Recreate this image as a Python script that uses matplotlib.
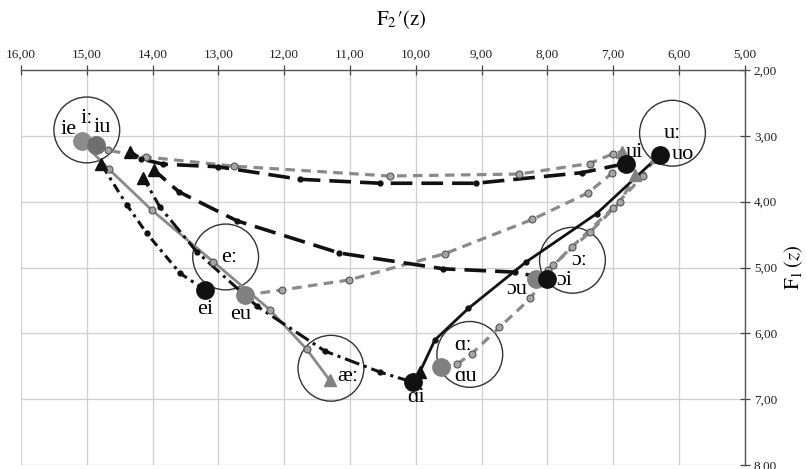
import matplotlib
matplotlib.use("Agg")
import matplotlib.pyplot as plt
from matplotlib.patches import Circle

# ------------------------------------
# Data (F2'(z), F1(z))
# ------------------------------------

mono_labels = ["iː", "eː", "æː", "ɑː", "ɔː", "uː"]
mono_x = [15.00, 12.89, 11.29, 9.18, 7.62, 6.10]
mono_y = [2.91, 4.84, 6.53, 6.32, 4.89, 2.96]

# diphthong trajectories: first point = onset, last point = offset
ie_x = [15.08, 14.66, 14.01, 13.08, 12.22, 11.66, 11.31]
ie_y = [3.08, 3.51, 4.13, 4.91, 5.64, 6.24, 6.71]

iu_x = [14.86, 14.68, 14.10, 12.77, 10.40, 8.43, 7.36, 7.00, 6.87]
iu_y = [3.14, 3.22, 3.32, 3.46, 3.61, 3.58, 3.42, 3.27, 3.24]

ui_x = [6.81, 7.48, 9.09, 10.54, 11.76, 13.00, 13.84, 14.18, 14.34]
ui_y = [3.42, 3.56, 3.72, 3.72, 3.66, 3.47, 3.43, 3.35, 3.24]

oi_x = [8.01, 8.49, 9.58, 11.16, 12.72, 13.60, 13.98]
oi_y = [5.17, 5.07, 5.02, 4.78, 4.29, 3.85, 3.52]

ei_x = [13.20, 13.58, 14.09, 14.39, 14.78]
ei_y = [5.34, 5.09, 4.48, 4.05, 3.43]

ai_x = [10.05, 10.54, 11.38, 12.41, 13.33, 13.89, 14.14]
ai_y = [6.74, 6.59, 6.27, 5.59, 4.76, 4.08, 3.64]

uo_x = [6.29, 7.25, 8.33, 9.20, 9.71, 9.94]
uo_y = [3.29, 4.18, 4.92, 5.62, 6.10, 6.59]

eu_x = [12.60, 12.03, 11.02, 9.56, 8.23, 7.39, 7.02, 6.82]
eu_y = [5.42, 5.34, 5.19, 4.79, 4.27, 3.87, 3.57, 3.41]

au_x = [9.61, 9.38, 9.15, 8.73, 8.26, 7.91, 7.35, 6.89, 6.67]
au_y = [6.51, 6.47, 6.31, 5.91, 5.47, 4.96, 4.46, 4.00, 3.60]

ou_x = [8.17, 7.99, 7.63, 7.00, 6.55, 6.35]
ou_y = [5.18, 5.04, 4.69, 4.09, 3.61, 3.32]

x_ticks = [16, 15, 14, 13, 12, 11, 10, 9, 8, 7, 6, 5]
y_ticks = [2, 3, 4, 5, 6, 7, 8]

# ------------------------------------
# Styles
# ------------------------------------

GRAY = "#8a8a8a"
BLACK = "#111111"
serif = ["Liberation Serif", "DejaVu Serif"]

plt.rcParams["font.family"] = serif
plt.rcParams["mathtext.fontset"] = "stix"

GDASH = (0, (3, 2))
LDASH = (0, (6, 2.5))
LABEL_SIZE = 16

trajectories = [
    # x, y, color, linestyle, lw, onset color, label, label shift (data units)
    (ie_x, ie_y, GRAY, "-", 2.0, "#8c8c8c", "ie", (0.2, -0.17)),
    (iu_x, iu_y, GRAY, GDASH, 2.3, "#6f6f6f", "iu", (-0.1, -0.26)),
    (eu_x, eu_y, GRAY, GDASH, 2.3, "#808080", "eu", (0.06, 0.29)),
    (au_x, au_y, GRAY, GDASH, 2.3, "#808080", "ɑu", (-0.37, 0.14)),
    (ou_x, ou_y, GRAY, GDASH, 2.3, "#808080", "ɔu", (0.29, 0.16)),
    (ui_x, ui_y, BLACK, LDASH, 2.6, BLACK, "ui", (-0.13, -0.17)),
    (oi_x, oi_y, BLACK, LDASH, 2.6, BLACK, "ɔi", (-0.26, 0.02)),
    (ei_x, ei_y, BLACK, (0, (3, 1.6, 1, 1.6)), 2.2, BLACK, "ei", (0.0, 0.3)),
    (ai_x, ai_y, BLACK, (0, (5, 1.6, 1, 1.6)), 2.2, BLACK, "ɑi", (-0.06, 0.24)),
    (uo_x, uo_y, BLACK, "-", 2.0, BLACK, "uo", (-0.34, 0.0)),
]

mono_shift = {"iː": (0.0, -0.17), "eː": (-0.06, 0.01), "æː": (-0.26, 0.12),
              "ɑː": (0.1, -0.14), "ɔː": (-0.1, 0.0), "uː": (0.0, 0.0)}

fig = plt.figure(figsize=(8.07, 4.69), dpi=100)
ax = fig.add_axes([0.026, 0.0085, 0.897, 0.8422])

ax.set_xlim(16, 5)
ax.set_ylim(8, 2)

# monophthong target circles
for lab, mx, my in zip(mono_labels, mono_x, mono_y):
    ax.add_patch(Circle((mx, my), 0.5, fill=False, ec="#333333", lw=1.0, zorder=2))
    dx, dy = mono_shift[lab]
    ax.text(mx + dx, my + dy, lab, fontsize=LABEL_SIZE, ha="center", va="center", zorder=6)

for tx, ty, col, ls, lw, oncol, lab, sh in trajectories:
    ax.plot(tx, ty, color=col, linestyle=ls, lw=lw, zorder=3,
            solid_capstyle="butt", dash_capstyle="butt")
    if col == GRAY:
        ax.plot(tx[1:-1], ty[1:-1], "o", ms=5, mfc="#a5a5a5", mec="#555555", mew=0.8, zorder=4)
        tri = "#808080"
    else:
        ax.plot(tx[1:-1], ty[1:-1], "o", ms=3.5, mfc=BLACK, mec=BLACK, zorder=4)
        tri = BLACK
    ax.plot(tx[-1], ty[-1], "^", ms=9, color=tri, zorder=5)
    ax.plot(tx[0], ty[0], "o", ms=12.5, color=oncol, zorder=5)
    ax.text(tx[0] + sh[0], ty[0] + sh[1], lab, fontsize=LABEL_SIZE, ha="center", va="center", zorder=6)

# ------------------------------------
# Axes
# ------------------------------------

ax.xaxis.tick_top()
ax.yaxis.tick_right()
ax.set_xticks(x_ticks)
ax.set_yticks(y_ticks)
ax.set_xticklabels([f"{v:.2f}".replace(".", ",") for v in x_ticks])
ax.set_yticklabels([f"{v:.2f}".replace(".", ",") for v in y_ticks])
ax.tick_params(direction="inout", length=7, width=0.9, colors="#444444",
               labelsize=9.5, labelcolor="#222222", pad=3)

ax.grid(True, color="#cfcfcf", lw=0.9)
ax.set_axisbelow(True)
for s in ["left", "bottom"]:
    ax.spines[s].set_visible(False)
for s in ["top", "right"]:
    ax.spines[s].set_color("#555555")
    ax.spines[s].set_linewidth(1.0)

fig.text(0.497, 0.958, r"$\mathrm{F}_{2}\prime\mathrm{(z)}$", fontsize=15, ha="center", va="center")
fig.text(0.983, 0.43, r"$\mathrm{F_1}\,(z)$", fontsize=15, ha="center", va="center", rotation=90)

plt.savefig("out.png", dpi=100)
